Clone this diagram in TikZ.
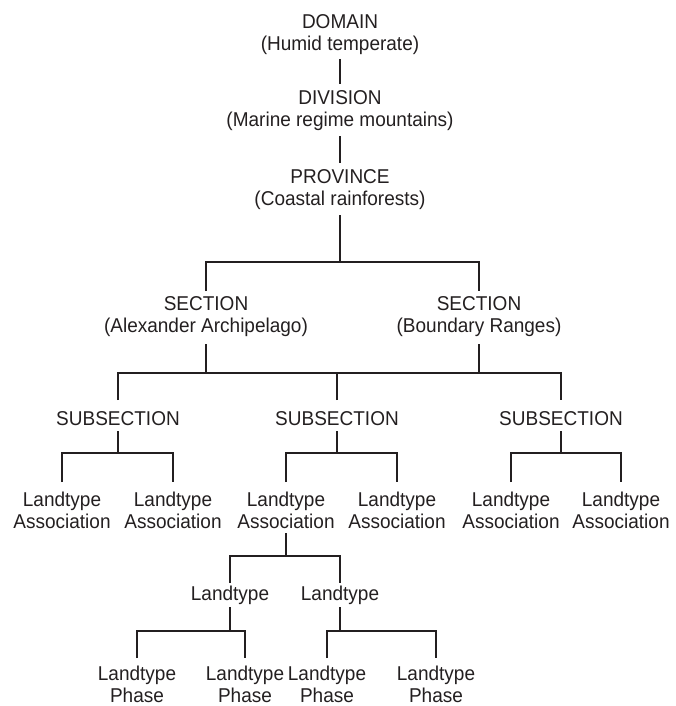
\documentclass[tikz,border=0pt]{standalone}
\usepackage{fontspec}
\setmainfont{Liberation Sans}[FakeStretch=0.95]
\definecolor{ink}{HTML}{231F20}
\begin{document}
\begin{tikzpicture}[x=1pt,y=-1pt,
  lbl/.style={font=\fontsize{20}{22}\selectfont, text=ink, inner sep=0pt, align=center, anchor=base},
  conn/.style={draw=ink, line width=1.8pt}]
\useasboundingbox (0,0) rectangle (676,706);
% levels (base = baseline of the last line)
\node[lbl] (dom)  at (340,51)  {DOMAIN\\(Humid temperate)};
\node[lbl] (div)  at (340,127) {DIVISION\\(Marine regime mountains)};
\node[lbl] (prov) at (340,205) {PROVINCE\\(Coastal rainforests)};
\node[lbl] (secL) at (206,332) {SECTION\\(Alexander Archipelago)};
\node[lbl] (secR) at (479,332) {SECTION\\(Boundary Ranges)};
\node[lbl] (subL) at (118,425) {SUBSECTION};
\node[lbl] (subM) at (337,425) {SUBSECTION};
\node[lbl] (subR) at (561,425) {SUBSECTION};
\node[lbl] (a1) at (62,528)  {Landtype\\Association};
\node[lbl] (a2) at (173,528) {Landtype\\Association};
\node[lbl] (a3) at (286,528) {Landtype\\Association};
\node[lbl] (a4) at (397,528) {Landtype\\Association};
\node[lbl] (a5) at (511,528) {Landtype\\Association};
\node[lbl] (a6) at (621,528) {Landtype\\Association};
\node[lbl] (l1) at (230,600) {Landtype};
\node[lbl] (l2) at (340,600) {Landtype};
\node[lbl] (p1) at (137,702) {Landtype\\Phase};
\node[lbl] (p2) at (245,702) {Landtype\\Phase};
\node[lbl] (p3) at (327,702) {Landtype\\Phase};
\node[lbl] (p4) at (436,702) {Landtype\\Phase};
% connectors
\draw[conn] ([yshift=-8pt]dom.base) -- ([yshift=43pt]div.base);
\draw[conn] ([yshift=-9pt]div.base) -- ([yshift=42pt]prov.base);
\draw[conn] ([yshift=41pt]secL.base) |- ([yshift=-57pt]prov.base) -| ([yshift=41pt]secR.base);
\draw[conn] ([yshift=-10pt]prov.base) -- ([yshift=-57pt]prov.base);
\draw[conn] ([yshift=-12pt]secL.base) -- ([yshift=-41pt]secL.base);
\draw[conn] ([yshift=-12pt]secR.base) -- ([yshift=-41pt]secR.base);
\draw[conn] ([yshift=25pt]subL.base) |- ([yshift=-41pt]secR.base) -| ([yshift=25pt]subR.base);
\draw[conn] ([yshift=25pt]subM.base) -- ([yshift=52pt]subM.base);
% subsections to associations
\draw[conn] ([yshift=-6pt]subL.base) -- ([yshift=-28pt]subL.base);
\draw[conn] ([yshift=46pt]a1.base) |- ([yshift=-28pt]subL.base) -| ([yshift=46pt]a2.base);
\draw[conn] ([yshift=-6pt]subM.base) -- ([yshift=-28pt]subM.base);
\draw[conn] ([yshift=46pt]a3.base) |- ([yshift=-28pt]subM.base) -| ([yshift=46pt]a4.base);
\draw[conn] ([yshift=-6pt]subR.base) -- ([yshift=-28pt]subR.base);
\draw[conn] ([yshift=46pt]a5.base) |- ([yshift=-28pt]subR.base) -| ([yshift=46pt]a6.base);
% association to landtypes
\draw[conn] ([yshift=-5pt]a3.base) -- ([yshift=-28pt]a3.base);
\draw[conn] ([yshift=17pt]l1.base) |- ([yshift=-28pt]a3.base) -| ([yshift=17pt]l2.base);
% landtypes to phases
\draw[conn] ([yshift=-7pt]l1.base) -- ([yshift=-31pt]l1.base);
\draw[conn] ([yshift=44pt]p1.base) |- ([yshift=-31pt]l1.base) -| ([yshift=44pt]p2.base);
\draw[conn] ([yshift=-7pt]l2.base) -- ([yshift=-31pt]l2.base);
\draw[conn] ([yshift=44pt]p3.base) |- ([yshift=-31pt]l2.base) -| ([yshift=44pt]p4.base);
\end{tikzpicture}
\end{document}
